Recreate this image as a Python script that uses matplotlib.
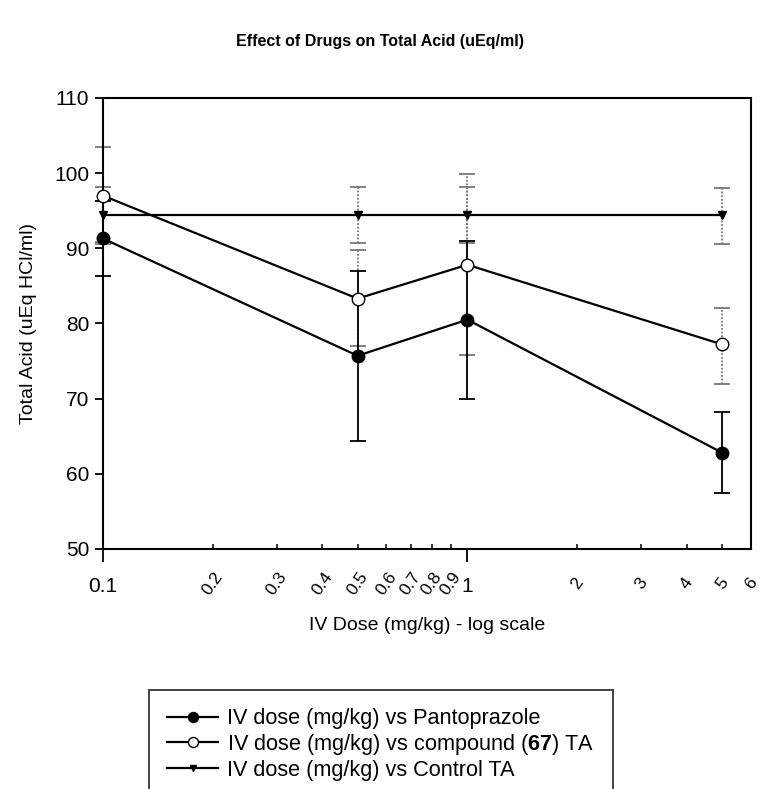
import matplotlib
matplotlib.use("Agg")
import matplotlib.pyplot as plt
from matplotlib.ticker import FixedLocator, FixedFormatter

plt.rcParams.update({
    "font.family": "Liberation Sans",
    "mathtext.fontset": "custom",
    "mathtext.rm": "Liberation Sans",
    "mathtext.bf": "Liberation Sans:bold",
})

doses = [0.1, 0.5, 1, 5]
panto = [91.3, 75.7, 80.5, 62.8]
panto_lo = [86.3, 64.3, 70.0, 57.5]
panto_hi = [96.3, 87.0, 91.0, 68.2]
cmpd = [97.0, 83.3, 87.8, 77.2]
cmpd_lo = [90.5, 77.0, 75.8, 72.0]
cmpd_hi = [103.5, 89.7, 99.9, 82.0]
ctrl = [94.4, 94.4, 94.4, 94.4]
ctrl_lo = [90.8, 90.7, 90.7, 90.5]
ctrl_hi = [98.1, 98.1, 98.1, 98.0]

major_ticks = [0.1, 1]
major_labels = ["0.1", "1"]
minor_ticks = [0.2, 0.3, 0.4, 0.5, 0.6, 0.7, 0.8, 0.9, 2, 3, 4, 5, 6]
minor_labels = ["0.2", "0.3", "0.4", "0.5", "0.6", "0.7", "0.8", "0.9", "2", "3", "4", "5", "6"]

fig = plt.figure(figsize=(7.61, 7.89), dpi=100)
ax = fig.add_axes([0.135, 0.3042, 0.852, 0.5718])


def errs(y, lo, hi):
    return [[v - l for v, l in zip(y, lo)], [h - v for v, h in zip(y, hi)]]


for y, lo, hi, dotted in [(ctrl, ctrl_lo, ctrl_hi, True), (cmpd, cmpd_lo, cmpd_hi, True),
                          (panto, panto_lo, panto_hi, False)]:
    col = "#777777" if dotted else "black"
    eb = ax.errorbar(doses, y, yerr=errs(y, lo, hi), fmt="none", ecolor=col,
                     elinewidth=1.3, capsize=5.5, capthick=1.3, zorder=2, clip_on=False)
    if dotted:
        eb[2][0].set_linestyle((0, (1, 1)))

ax.plot(doses, ctrl, color="black", lw=1.6, marker="v", ms=6, mfc="black", mec="black",
        zorder=3, clip_on=False, label="IV dose (mg/kg) vs Control TA")
ax.plot(doses, cmpd, color="black", lw=1.6, marker="o", ms=9, mfc="white", mec="black",
        zorder=4, clip_on=False, label="IV dose (mg/kg) vs compound ($\\mathbf{67}$) TA")
ax.plot(doses, panto, color="black", lw=1.6, marker="o", ms=9, mfc="black", mec="black",
        zorder=5, clip_on=False, label="IV dose (mg/kg) vs Pantoprazole")

ax.set_xscale("log")
ax.set_xlim(0.1, 6.0)
ax.set_ylim(50, 110)
ax.set_yticks([50, 60, 70, 80, 90, 100, 110])
ax.xaxis.set_major_locator(FixedLocator(major_ticks))
ax.xaxis.set_major_formatter(FixedFormatter(major_labels))
ax.xaxis.set_minor_locator(FixedLocator(minor_ticks))
ax.xaxis.set_minor_formatter(FixedFormatter(minor_labels))
ax.tick_params(axis="x", which="major", direction="out", length=9.5, width=1.3,
               labelsize=15, pad=10.5)
ax.tick_params(axis="x", which="minor", direction="in", length=3.5, width=1.1,
               labelsize=12.5, pad=25)
ax.tick_params(axis="y", length=5.8, width=1.3, labelsize=15, pad=4)
for lab in ax.xaxis.get_minorticklabels():
    lab.set_rotation(55)
    lab.set_ha("center")
    lab.set_va("center")
for s in ax.spines.values():
    s.set_linewidth(1.5)

ax.set_xlabel("IV Dose (mg/kg) - log scale", fontsize=14, labelpad=14)
ax.set_ylabel("Total Acid (uEq HCl/ml)", fontsize=14, labelpad=12)
fig.text(0.5, 0.947, "Effect of Drugs on Total Acid (uEq/ml)", ha="center", va="center",
         fontsize=11.5, fontweight="bold")

h, l = ax.get_legend_handles_labels()
leg = fig.legend(h[::-1], l[::-1], loc="upper left", bbox_to_anchor=(149 / 761, 1 - 690 / 789),
                 fontsize=15.6, frameon=True, fancybox=False, edgecolor="black",
                 handlelength=2.35, handletextpad=0.4, labelspacing=0.12, borderpad=0.85,
                 borderaxespad=0, markerscale=0.8)
leg.get_frame().set_linewidth(1.3)

fig.savefig("out.png", dpi=100)
